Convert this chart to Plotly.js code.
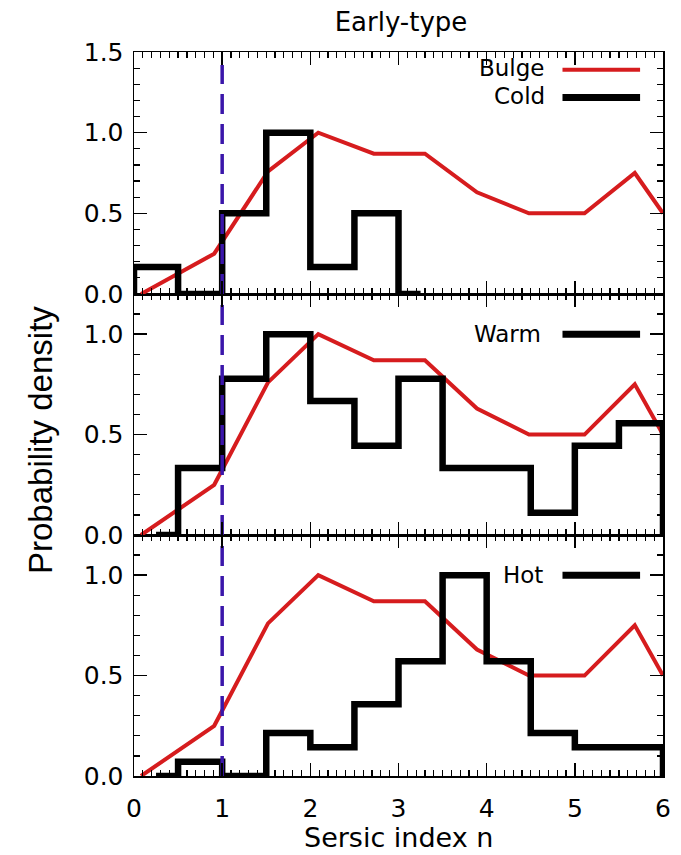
<!DOCTYPE html>
<html>
<head>
<meta charset="utf-8">
<script src="https://cdn.plot.ly/plotly-3.0.1.min.js"></script>
<style>html,body{margin:0;padding:0;background:#fff;}#chart{width:681px;height:855px;}</style>
</head>
<body>
<div id="chart"></div>
<script>
// ---- data ----
const bulgeN = [0.08, 0.91, 1.52, 2.09, 2.72, 3.30, 3.89, 4.48, 5.11, 5.68, 6.00];
const bulgeP = [0.00, 0.25, 0.76, 1.00, 0.87, 0.87, 0.63, 0.50, 0.50, 0.75, 0.50];

const coldN = [-0.25, 0.25, 0.75, 1.25, 1.75, 2.25, 2.75, 3.25];
const coldP = [0.00, 0.167, 0.00, 0.50, 1.00, 0.167, 0.50, 0.00];

const warmN = [0.25, 0.75, 1.25, 1.75, 2.25, 2.75, 3.25, 3.75, 4.25, 4.75, 5.25, 5.75, 6.25];
const warmP = [0.00, 0.333, 0.778, 1.00, 0.667, 0.444, 0.778, 0.333, 0.333, 0.111, 0.444, 0.556, 0.00];

const hotN = [0.25, 0.75, 1.25, 1.75, 2.25, 2.75, 3.25, 3.75, 4.25, 4.75, 5.25, 5.75, 6.25];
const hotP = [0.00, 0.071, 0.00, 0.214, 0.143, 0.357, 0.571, 1.00, 0.571, 0.214, 0.143, 0.143, 0.00];

const nCut = 1.0;                 // vertical dashed line
const cutTop = [1.42, 1.2, 1.2];  // top end of the dashed line in each panel
const panelNames = ['Cold', 'Warm', 'Hot'];
const xTickVals = [0, 1, 2, 3, 4, 5, 6];
const yRanges = [[0, 1.5], [0, 1.2], [0, 1.2]];

// ---- styling ----
const RED = 'rgb(214,28,30)';
const CUT = 'rgb(58,22,170)';
const tickFont = {family: 'DejaVu Sans', size: 25, color: '#000'};

const hist = [
  {n: coldN, p: coldP},
  {n: warmN, p: warmP},
  {n: hotN, p: hotP}
];
// panel 0 (top) uses x3/y3, panel 1 uses x2/y2, panel 2 (bottom) uses x/y
const axisIds = [['x3', 'y3'], ['x2', 'y2'], ['x', 'y']];

const traces = [];
hist.forEach((h, i) => {
  const [xa, ya] = axisIds[i];
  traces.push({
    x: bulgeN, y: bulgeP, xaxis: xa, yaxis: ya, type: 'scatter', mode: 'lines',
    line: {color: RED, width: 4}, hoverinfo: 'skip'
  });
  traces.push({
    x: h.n, y: h.p, xaxis: xa, yaxis: ya, type: 'scatter', mode: 'lines',
    line: {color: '#000', width: 6.5, shape: 'hvh'}, hoverinfo: 'skip'
  });
  traces.push({
    x: [nCut, nCut], y: [yRanges[i][0], cutTop[i]], xaxis: xa, yaxis: ya,
    type: 'scatter', mode: 'lines',
    line: {color: CUT, width: 3.5, dash: '20px,10px'}, hoverinfo: 'skip'
  });
});

const xDom = [134 / 681, 663 / 681];
const yDoms = [
  [1 - 294 / 855, 1 - 52 / 855],
  [1 - 535 / 855, 1 - 294 / 855],
  [1 - 776 / 855, 1 - 535 / 855]
];

function xAxis(anchor, showLabels) {
  return {
    domain: xDom, range: [0, 6], anchor: anchor,
    tickmode: 'array', tickvals: xTickVals, ticktext: xTickVals.map(String),
    ticks: 'inside', ticklen: 13, tickwidth: 1.5, tickcolor: '#000',
    minor: {dtick: 0.1, ticks: 'inside', ticklen: 6, tickwidth: 1.2, tickcolor: '#000', showgrid: false},
    showline: true, linecolor: '#000', linewidth: 1.5, mirror: 'ticks',
    showgrid: false, zeroline: false, showticklabels: showLabels,
    tickfont: tickFont, ticklabelstandoff: 9, fixedrange: true
  };
}
function yAxis(anchor, dom, rng) {
  return {
    domain: dom, range: rng, anchor: anchor,
    dtick: 0.5, tick0: 0, tickformat: '.1f',
    ticks: 'inside', ticklen: 13, tickwidth: 1.5, tickcolor: '#000',
    minor: {dtick: 0.1, ticks: 'inside', ticklen: 6, tickwidth: 1.2, tickcolor: '#000', showgrid: false},
    showline: true, linecolor: '#000', linewidth: 1.5, mirror: 'ticks',
    showgrid: false, zeroline: false,
    tickfont: tickFont, ticklabelstandoff: 4, fixedrange: true
  };
}

const legendFont = {family: 'DejaVu Sans', size: 23, color: '#000'};
const annotations = [
  {xref: 'paper', yref: 'paper', x: 40 / 681, y: 1 - 440 / 855,
   text: 'Probability density', textangle: -90, showarrow: false,
   font: {family: 'Liberation Sans', size: 33, color: '#000'}, xanchor: 'center', yanchor: 'middle'},
  {xref: 'paper', yref: 'paper', x: 398 / 681, y: 1 - 837 / 855,
   text: 'Sersic index n', showarrow: false,
   font: {family: 'DejaVu Sans', size: 27, color: '#000'}, xanchor: 'center', yanchor: 'middle'},
  // legend labels
  {xref: 'x3', yref: 'y3', x: 4.68, y: 1.40, text: 'Bulge', showarrow: false, xanchor: 'right', yanchor: 'middle', font: legendFont},
  {xref: 'x3', yref: 'y3', x: 4.68, y: 1.225, text: panelNames[0], showarrow: false, xanchor: 'right', yanchor: 'middle', font: legendFont},
  {xref: 'x2', yref: 'y2', x: 4.64, y: 1.0, text: panelNames[1], showarrow: false, xanchor: 'right', yanchor: 'middle', font: legendFont},
  {xref: 'x', yref: 'y', x: 4.66, y: 1.0, text: panelNames[2], showarrow: false, xanchor: 'right', yanchor: 'middle', font: legendFont}
];

const shapes = [
  {type: 'line', xref: 'x3', yref: 'y3', x0: 4.86, x1: 5.74, y0: 1.39, y1: 1.39, line: {color: RED, width: 4}},
  {type: 'line', xref: 'x3', yref: 'y3', x0: 4.86, x1: 5.74, y0: 1.218, y1: 1.218, line: {color: '#000', width: 7}},
  {type: 'line', xref: 'x2', yref: 'y2', x0: 4.86, x1: 5.74, y0: 1.0, y1: 1.0, line: {color: '#000', width: 7}},
  {type: 'line', xref: 'x', yref: 'y', x0: 4.86, x1: 5.74, y0: 1.0, y1: 1.0, line: {color: '#000', width: 7}}
];

const layout = {
  width: 681, height: 855,
  margin: {l: 0, r: 0, t: 0, b: 0},
  paper_bgcolor: '#fff', plot_bgcolor: '#fff',
  showlegend: false,
  title: {text: 'Early-type', x: 401 / 681, xanchor: 'center', xref: 'paper',
          y: 1 - 22 / 855, yanchor: 'middle', yref: 'paper',
          font: {family: 'DejaVu Sans', size: 26, color: '#000'}},
  xaxis: xAxis('y', true),
  xaxis2: xAxis('y2', false),
  xaxis3: xAxis('y3', false),
  yaxis: yAxis('x', yDoms[2], yRanges[2]),
  yaxis2: yAxis('x2', yDoms[1], yRanges[1]),
  yaxis3: yAxis('x3', yDoms[0], yRanges[0]),
  annotations: annotations,
  shapes: shapes
};

Plotly.newPlot('chart', traces, layout, {staticPlot: true, displayModeBar: false});
</script>
</body>
</html>
